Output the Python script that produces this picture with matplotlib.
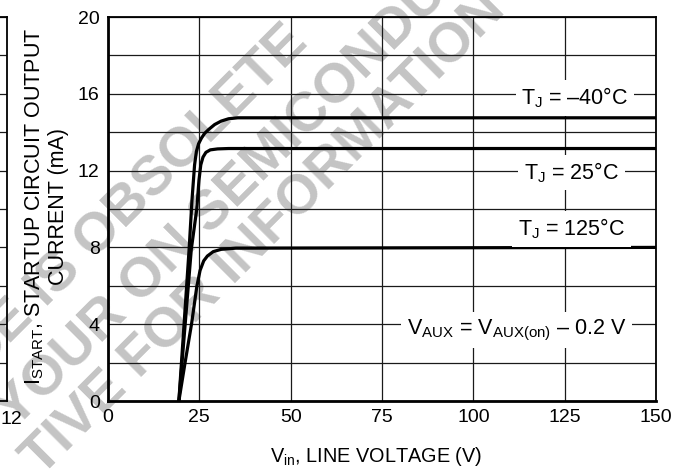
"""
plot.py
Startup circuit output current vs. line voltage (datasheet style),
three junction temperatures, with the obsolete-part watermark.
"""

import numpy as np
import matplotlib
matplotlib.use("Agg")
import matplotlib.pyplot as plt
import matplotlib.transforms as mtransforms
from matplotlib.ticker import MultipleLocator

plt.rcParams["font.family"] = ["Liberation Sans", "DejaVu Sans"]
plt.rcParams["mathtext.fontset"] = "custom"
plt.rcParams["mathtext.rm"] = "Liberation Sans"
plt.rcParams["mathtext.it"] = "Liberation Sans"

# ── data ─────────────────────────────────────────────────────────────────────
vin_m40 = [19.4, 22.2, 23.0, 23.7, 24.2, 24.8, 25.6, 26.5, 27.6, 29.2, 31.0, 33.0, 35.5, 150]
i_m40   = [0.0, 7.9, 10.5, 12.3, 13.0, 13.4, 13.7, 13.95, 14.15, 14.4, 14.58, 14.7, 14.75, 14.75]

vin_25 = [19.4, 22.8, 24.3, 24.9, 25.4, 26.0, 26.8, 28.0, 30.0, 33.0, 150]
i_25   = [0.0, 7.9, 10.0, 11.5, 12.3, 12.7, 12.95, 13.08, 13.13, 13.15, 13.15]

vin_125 = [19.4, 21.1, 22.9, 24.3, 25.2, 26.2, 27.2, 28.8, 31.0, 35.0, 150]
i_125   = [0.0, 2.0, 4.05, 5.95, 6.8, 7.3, 7.55, 7.78, 7.9, 7.96, 8.0]

x_ticks = [0, 25, 50, 75, 100, 125, 150]
y_ticks = [0, 4, 8, 12, 16, 20]

labels = [r"$\mathregular{T_J}$ = –40°C",
          r"$\mathregular{T_J}$ = 25°C",
          r"$\mathregular{T_J}$ = 125°C",
          r"$\mathregular{V_{AUX}}$ = $\mathregular{V_{AUX(on)}}$ – 0.2 V"]
label_xy = [(127.8, 15.8), (126.9, 11.9), (126.9, 8.95), (111.9, 3.7)]

W, H = 680, 473
fig = plt.figure(figsize=(W / 100, H / 100), dpi=100)
fig.patch.set_facecolor("white")

ax_box = [108 / W, 1 - 401 / H, (656 - 108) / W, (401 - 17) / H]

# ── watermark (behind everything) ────────────────────────────────────────────
wm = dict(color="#c4c4c4", fontsize=40, fontweight="bold", rotation=45,
          rotation_mode="anchor", va="center", zorder=-5)
fig.text(300 / W, 1 - 35 / H, "CE IS OBSOLETE", ha="right", **wm)
fig.text(6 / W, 1 - 420 / H, "YOUR ON SEMICONDUCTOR", ha="left", **wm)
fig.text(32 / W, 1 - 468 / H, "TIVE FOR INFORMATION", ha="left", **wm)

# ── partial neighbouring chart on the far left ───────────────────────────────
axl = fig.add_axes([(7 - 300) / W, ax_box[1], 300 / W, ax_box[3]])
axl.patch.set_visible(False)
axl.set_xlim(0, 12)
axl.set_ylim(0, 20)
axl.set_xticks([12])
axl.set_yticks([])
axl.yaxis.set_minor_locator(MultipleLocator(2))
axl.grid(which="minor", axis="y", color="#1a1a1a", lw=0.9)
axl.tick_params(axis="both", which="both", length=0, labelsize=14, pad=7)
shift = mtransforms.ScaledTranslation(4 / 100, 0, fig.dpi_scale_trans)
for lab in axl.get_xticklabels():
    lab.set_transform(lab.get_transform() + shift)
for s in axl.spines.values():
    s.set_linewidth(1.3)
axl.spines["left"].set_visible(False)

# ── main chart ───────────────────────────────────────────────────────────────
ax = fig.add_axes(ax_box)
ax.patch.set_visible(False)

for v, i in [(vin_m40, i_m40), (vin_25, i_25), (vin_125, i_125)]:
    ax.plot(v, i, color="black", lw=2.3, solid_joinstyle="round",
            solid_capstyle="round", zorder=3)

ax.set_xlim(0, 150)
ax.set_ylim(0, 20)
ax.set_xticks(x_ticks)
ax.set_yticks(y_ticks)
ax.yaxis.set_minor_locator(MultipleLocator(2))
ax.grid(which="both", color="#1a1a1a", lw=0.9, zorder=1)
ax.set_axisbelow(True)
ax.tick_params(axis="both", which="both", length=0, labelsize=14)
ax.tick_params(axis="x", pad=6)
ax.tick_params(axis="y", pad=6)

for side in ["left", "bottom"]:
    ax.spines[side].set_linewidth(2.0)
for side in ["top", "right"]:
    ax.spines[side].set_linewidth(1.3)

for txt, (x, y) in zip(labels, label_xy):
    ax.text(x, y, txt, fontsize=15.5, ha="center", va="center", zorder=4,
            bbox=dict(facecolor="white", edgecolor="none", pad=4))

ax.set_xlabel(r"$\mathregular{V_{in}}$, LINE VOLTAGE (V)", fontsize=14.3)
ax.xaxis.set_label_coords(0.49, -0.115)

fig.text(46 / W, 1 - 206 / H,
         r"$\mathregular{I_{START}}$, STARTUP CIRCUIT OUTPUT" + "\nCURRENT (mA)",
         rotation=90, ha="center", va="center", multialignment="center",
         fontsize=15.5, linespacing=1.15)

fig.savefig("out.png", dpi=100, facecolor="white")
